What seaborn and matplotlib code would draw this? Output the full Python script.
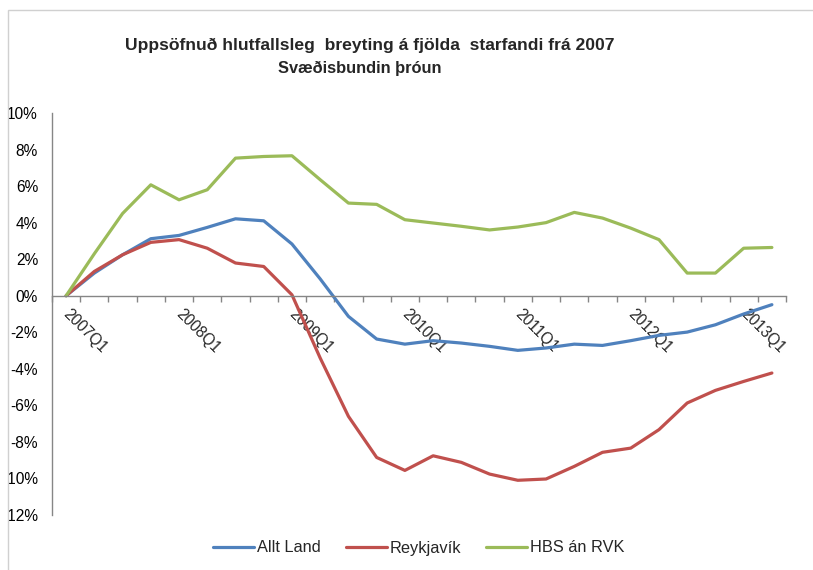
import numpy as np
import pandas as pd
import seaborn as sns
import matplotlib.pyplot as plt
from matplotlib.patches import Rectangle
from matplotlib.transforms import Bbox, TransformedBbox, ScaledTranslation

quarters = ["2007Q1", "2007Q2", "2007Q3", "2007Q4",
            "2008Q1", "2008Q2", "2008Q3", "2008Q4",
            "2009Q1", "2009Q2", "2009Q3", "2009Q4",
            "2010Q1", "2010Q2", "2010Q3", "2010Q4",
            "2011Q1", "2011Q2", "2011Q3", "2011Q4",
            "2012Q1", "2012Q2", "2012Q3", "2012Q4",
            "2013Q1", "2013Q2"]

# cumulative change in %
allt_land = [0, 1.24, 2.24, 3.12, 3.30, 3.74, 4.21, 4.10, 2.83, 0.92, -1.13, -2.37, -2.65,
             -2.46, -2.59, -2.77, -2.99, -2.86, -2.65, -2.72, -2.46, -2.17, -1.99, -1.59, -1.00, -0.49]
reykjavik = [0, 1.33, 2.24, 2.92, 3.07, 2.60, 1.79, 1.60, 0.05, -3.41, -6.60, -8.85, -9.56,
             -8.76, -9.12, -9.76, -10.10, -10.03, -9.34, -8.57, -8.34, -7.33, -5.87, -5.18, -4.69, -4.23]
hbs_an_rvk = [0, 2.30, 4.50, 6.07, 5.25, 5.80, 7.53, 7.62, 7.66, 6.35, 5.07, 5.00, 4.16,
              3.98, 3.80, 3.60, 3.76, 4.00, 4.56, 4.25, 3.70, 3.07, 1.24, 1.24, 2.60, 2.64]

series_names = ["Allt Land", "Reykjavík", "HBS án RVK"]
colors = ["#4F81BD", "#C0504D", "#9BBB59"]
y_ticks = [-12, -10, -8, -6, -4, -2, 0, 2, 4, 6, 8, 10]
label_every = 4

pos = np.arange(len(quarters))
df = pd.concat([
    pd.DataFrame({"pos": pos, "value": vals, "series": name})
    for name, vals in zip(series_names, [allt_land, reykjavik, hbs_an_rvk])
])

sns.set_style("white")
plt.rcParams["font.family"] = ["Liberation Sans", "DejaVu Sans"]

fig = plt.figure(figsize=(8.13, 5.7), dpi=100)
ax = fig.add_axes([52 / 813, 1 - 515 / 570, (786 - 52) / 813, (515 - 113) / 570])

sns.lineplot(data=df, x="pos", y="value", hue="series", palette=colors,
             hue_order=series_names, linewidth=2.3, ax=ax, legend=True)

ax.set_xlim(-0.5, len(quarters) - 0.5)
ax.set_ylim(y_ticks[0], y_ticks[-1])
ax.set_xlabel("")
ax.set_ylabel("")

grey = "#868686"
for s in ["top", "right"]:
    ax.spines[s].set_visible(False)
for s in ["left", "bottom"]:
    ax.spines[s].set_color(grey)
    ax.spines[s].set_linewidth(1.0)
ax.spines["bottom"].set_position(("data", 0))

ax.set_yticks(y_ticks)
ax.set_yticklabels([f"{v}%" for v in y_ticks])
ax.tick_params(axis="y", direction="out", length=4, width=1, color=grey,
               pad=6, labelsize=11.2, labelcolor="black")
# the chart area cuts the y labels on the left, as in the original
clip = TransformedBbox(Bbox([[9 / 813, 0], [1, 1]]), fig.transFigure)
for lbl in ax.get_yticklabels():
    lbl.set_clip_box(clip)
    lbl.set_clip_on(True)

ax.set_xticks(pos[::label_every])
ax.set_xticks(np.arange(-0.5, len(quarters), 1), minor=True)
ax.set_xticklabels(quarters[::label_every])
ax.tick_params(axis="x", which="major", length=0, pad=4, labelsize=11.2)
ax.tick_params(axis="x", which="minor", direction="out", length=4, width=1,
               color=grey, bottom=True)
shift = ScaledTranslation(5 / 100, -5 / 100, fig.dpi_scale_trans)
for lbl in ax.get_xticklabels():
    lbl.set_rotation(-45)
    lbl.set_ha("left")
    lbl.set_va("top")
    lbl.set_rotation_mode("anchor")
    lbl.set_transform(lbl.get_transform() + shift)

handles, labels = ax.get_legend_handles_labels()
ax.legend(handles, labels, loc="center", bbox_to_anchor=(419 / 813, 1 - 548 / 570),
          bbox_transform=fig.transFigure, ncol=3, frameon=False, fontsize=11.8,
          handlelength=2.5, handletextpad=0.2, columnspacing=1.5)

fig.text(370 / 813, 1 - 45 / 570, "Uppsöfnuð hlutfallsleg  breyting á fjölda  starfandi frá 2007",
         ha="center", va="center", fontsize=12.6, fontweight="bold")
fig.text(360 / 813, 1 - 68 / 570, "Svæðisbundin þróun",
         ha="center", va="center", fontsize=11.8, fontweight="bold")

fig.patches.append(Rectangle((8 / 813, -0.05), 1.2, 1.05 - 10 / 570, transform=fig.transFigure,
                             fill=False, edgecolor="#D0D0D0", linewidth=1.0))

fig.savefig("out.png", dpi=100)
